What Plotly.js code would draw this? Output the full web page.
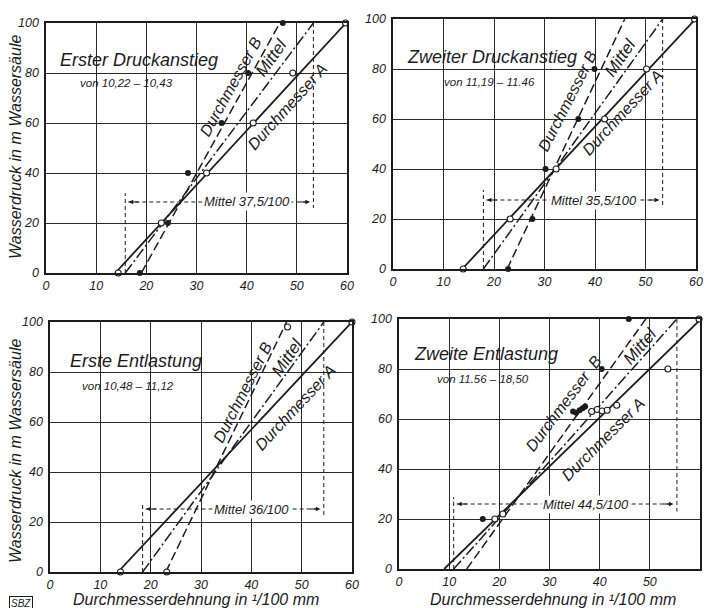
<!DOCTYPE html>
<html>
<head>
<meta charset="utf-8">
<script src="https://cdn.plot.ly/plotly-3.0.1.min.js"></script>
<style>html,body{margin:0;padding:0;background:#fff;}#chart{width:704px;height:608px;}</style>
</head>
<body>
<div id="chart"></div>
<script>
// ---------- data ----------
const xTicks = [0, 10, 20, 30, 40, 50, 60];
const yTicks = [0, 20, 40, 60, 80, 100];
const lineY = [0, 100];

// Panel 1: Erster Druckanstieg
const p1_title = "Erster Druckanstieg";
const p1_time = "von 10,22 – 10,43";
const p1_mittel = "Mittel 37,5/100";
const p1_lineA_x = [13.8, 59.8];
const p1_lineB_x = [19.0, 46.6];
const p1_lineM_x = [15.8, 53.3];
const p1_open_x = [14.4, 23.0, 32.0, 41.3, 49.2, 59.7];
const p1_open_y = [0, 20, 40, 60, 80, 100];
const p1_filled_x = [18.7, 24.3, 28.3, 35.0, 40.3, 47.2];
const p1_filled_y = [0, 20, 40, 60, 80, 100];
const p1_arrow_y = 28.4, p1_leftTop = 32, p1_rightBottom = 26, p1_textX = 40;

// Panel 2: Zweiter Druckanstieg
const p2_title = "Zweiter Druckanstieg";
const p2_time = "von 11,19 – 11.46";
const p2_mittel = "Mittel 35,5/100";
const p2_lineA_x = [13.7, 59.9];
const p2_lineB_x = [22.6, 45.9];
const p2_lineM_x = [17.9, 53.4];
const p2_open_x = [13.9, 23.2, 32.3, 41.9, 50.2, 59.7];
const p2_open_y = [0, 20, 40, 60, 80, 100];
const p2_filled_x = [22.8, 27.6, 30.2, 36.7, 39.9];
const p2_filled_y = [0, 20, 40, 60, 80];
const p2_arrow_y = 27.6, p2_leftTop = 31.6, p2_rightBottom = 24.8, p2_textX = 39.9;

// Panel 3: Erste Entlastung
const p3_title = "Erste Entlastung";
const p3_time = "von 10,48 – 11,12";
const p3_mittel = "Mittel 36/100";
const p3_lineA_x = [13.5, 60.0];
const p3_lineB_x = [23.0, 47.0];
const p3_lineM_x = [18.4, 54.4];
const p3_open_x = [14.0, 23.2, 47.2, 60.0];
const p3_open_y = [0, 0, 98, 100];
const p3_filled_x = [];
const p3_filled_y = [];
const p3_arrow_y = 25.2, p3_leftTop = 28, p3_rightBottom = 22.4, p3_textX = 40;

// Panel 4: Zweite Entlastung
const p4_title = "Zweite Entlastung";
const p4_time = "von 11.56 – 18,50";
const p4_mittel = "Mittel 44,5/100";
const p4_lineA_x = [9.0, 60.2];
const p4_lineB_x = [13.5, 49.2];
const p4_lineM_x = [10.9, 55.4];
const p4_open_x = [19.1, 20.7, 38.4, 39.5, 40.5, 41.5, 43.4, 53.6, 59.8];
const p4_open_y = [20, 22, 63, 63.8, 63.2, 63.5, 65.5, 80, 100];
const p4_filled_x = [16.7, 34.7, 35.3, 36.0, 36.6, 37.1, 40.4, 45.8];
const p4_filled_y = [20, 63, 62.5, 63.5, 64.3, 65, 80, 100];
const p4_arrow_y = 26, p4_leftTop = 28.8, p4_rightBottom = 23, p4_textX = 37.2;

// label positions / angles (layout)
const labelsPos = [
  {B:[36.9,74.4,-61], M:[45,86,-55], A:[48.2,66.4,-48], title:[2.4,85], time:[6.4,76]},
  {B:[34.6,67.4,-63], M:[45,84.8,-56], A:[45.5,62.5,-47], title:[2.4,84.8], time:[9.7,74.8]},
  {B:[38.2,72,-63], M:[47.1,86,-56], A:[48.7,66,-47], title:[3.6,84.4], time:[6,74.4]},
  {B:[32.8,66.3,-53], M:[48,89.2,-50], A:[40.6,52,-45], title:[2.6,86], time:[7.2,76]}
];

const panels = [
  {title:p1_title,time:p1_time,mittel:p1_mittel,A:p1_lineA_x,B:p1_lineB_x,M:p1_lineM_x,ox:p1_open_x,oy:p1_open_y,fx:p1_filled_x,fy:p1_filled_y,ay:p1_arrow_y,lt:p1_leftTop,rb:p1_rightBottom,tx:p1_textX,bLabel:"Durchmesser B"},
  {title:p2_title,time:p2_time,mittel:p2_mittel,A:p2_lineA_x,B:p2_lineB_x,M:p2_lineM_x,ox:p2_open_x,oy:p2_open_y,fx:p2_filled_x,fy:p2_filled_y,ay:p2_arrow_y,lt:p2_leftTop,rb:p2_rightBottom,tx:p2_textX,bLabel:"Durchmesser B"},
  {title:p3_title,time:p3_time,mittel:p3_mittel,A:p3_lineA_x,B:p3_lineB_x,M:p3_lineM_x,ox:p3_open_x,oy:p3_open_y,fx:p3_filled_x,fy:p3_filled_y,ay:p3_arrow_y,lt:p3_leftTop,rb:p3_rightBottom,tx:p3_textX,bLabel:"Durchmesser B"},
  {title:p4_title,time:p4_time,mittel:p4_mittel,A:p4_lineA_x,B:p4_lineB_x,M:p4_lineM_x,ox:p4_open_x,oy:p4_open_y,fx:p4_filled_x,fy:p4_filled_y,ay:p4_arrow_y,lt:p4_leftTop,rb:p4_rightBottom,tx:p4_textX,bLabel:"Durchmesser  B"}
];

// ---------- layout ----------
const domains = [
  {x:[46/704, 347/704], y:[1-273/608, 1-23/608]},
  {x:[393/704, 696/704], y:[1-269/608, 1-19/608]},
  {x:[50/704, 352/704], y:[1-572/608, 1-322/608]},
  {x:[399/704, 700/704], y:[1-569/608, 1-319/608]}
];

const FONT = "Liberation Sans, Arial, sans-serif";
const INK = "#1c1c1c";
const traces = [];
const annotations = [];
const layout = {
  width: 704, height: 608,
  margin: {l:0, r:0, t:0, b:0},
  paper_bgcolor: "#ffffff", plot_bgcolor: "#ffffff",
  showlegend: false,
  font: {family: FONT, color: INK, size: 13, style: "italic"},
  annotations: annotations
};

panels.forEach((p, i) => {
  const n = i + 1;
  const xa = n === 1 ? "x" : "x" + n;
  const ya = n === 1 ? "y" : "y" + n;
  const axKey = n === 1 ? "" : String(n);
  const common = {
    showline: true, mirror: true, linecolor: INK, linewidth: 1.6,
    showgrid: true, gridcolor: "#2a2a2a", gridwidth: 1,
    zeroline: false, ticks: "", fixedrange: true,
    tickfont: {family: FONT, size: 12.5, color: INK, style: "italic"}
  };
  layout["xaxis" + axKey] = Object.assign({}, common, {
    domain: domains[i].x, range: [0, 60], tickvals: xTicks, anchor: ya, ticklabelstandoff: 0
  });
  layout["yaxis" + axKey] = Object.assign({}, common, {
    domain: domains[i].y, range: [0, 100], tickvals: yTicks, anchor: xa, ticklabelstandoff: 3
  });

  const base = {xaxis: xa, yaxis: ya, hoverinfo: "skip", showlegend: false};
  // Mittel vertical dashed guides
  traces.push(Object.assign({}, base, {x:[p.M[0], p.M[0]], y:[0, p.lt], mode:"lines", line:{color:INK, width:1, dash:"4px,3px"}}));
  traces.push(Object.assign({}, base, {x:[p.M[1], p.M[1]], y:[100, p.rb], mode:"lines", line:{color:INK, width:1, dash:"4px,3px"}}));
  // horizontal dashed arrow
  traces.push(Object.assign({}, base, {x:[p.M[0] + 0.6, p.M[1] - 0.6], y:[p.ay, p.ay], mode:"lines", line:{color:INK, width:1, dash:"4px,3px"}}));
  // lines
  traces.push(Object.assign({}, base, {x:p.A, y:lineY, mode:"lines", line:{color:INK, width:1.8}}));
  traces.push(Object.assign({}, base, {x:p.B, y:lineY, mode:"lines", line:{color:INK, width:1.5, dash:"9px,4px"}}));
  traces.push(Object.assign({}, base, {x:p.M, y:lineY, mode:"lines", line:{color:INK, width:1.5, dash:"11px,3px,2px,3px"}}));
  // points
  traces.push(Object.assign({}, base, {x:p.fx, y:p.fy, mode:"markers", cliponaxis:false, marker:{symbol:"circle", size:6, color:INK}}));
  traces.push(Object.assign({}, base, {x:p.ox, y:p.oy, mode:"markers", cliponaxis:false, marker:{symbol:"circle", size:6, color:"#ffffff", line:{color:INK, width:1.1}}}));

  const lp = labelsPos[i];
  annotations.push({xref:xa, yref:ya, x:lp.title[0], y:lp.title[1], xanchor:"left", yanchor:"middle", text:p.title, showarrow:false, font:{family:FONT, size:18, color:INK, style:"italic"}});
  annotations.push({xref:xa, yref:ya, x:lp.time[0], y:lp.time[1], xanchor:"left", yanchor:"middle", text:p.time, showarrow:false, font:{family:FONT, size:11.5, color:INK, style:"italic"}});
  annotations.push({xref:xa, yref:ya, x:lp.B[0], y:lp.B[1], xanchor:"center", yanchor:"middle", text:p.bLabel, textangle:lp.B[2], showarrow:false, font:{family:FONT, size:16, color:INK, style:"italic"}});
  annotations.push({xref:xa, yref:ya, x:lp.M[0], y:lp.M[1], xanchor:"center", yanchor:"middle", text:"Mittel", textangle:lp.M[2], showarrow:false, font:{family:FONT, size:17, color:INK, style:"italic"}});
  annotations.push({xref:xa, yref:ya, x:lp.A[0], y:lp.A[1], xanchor:"center", yanchor:"middle", text:"Durchmesser A", textangle:lp.A[2], showarrow:false, font:{family:FONT, size:16, color:INK, style:"italic"}});
  // Mittel text
  annotations.push({xref:xa, yref:ya, x:p.tx, y:p.ay, xanchor:"center", yanchor:"middle", text:p.mittel, showarrow:false, bgcolor:"#ffffff", borderpad:1, font:{family:FONT, size:13, color:INK, style:"italic"}});
  // arrow heads
  annotations.push({xref:xa, yref:ya, axref:xa, ayref:ya, x:p.M[0] + 0.7, y:p.ay, ax:p.M[0] + 3, ay:p.ay, text:"", showarrow:true, arrowhead:2, arrowsize:0.9, arrowwidth:1, arrowcolor:INK});
  annotations.push({xref:xa, yref:ya, axref:xa, ayref:ya, x:p.M[1] - 0.7, y:p.ay, ax:p.M[1] - 3, ay:p.ay, text:"", showarrow:true, arrowhead:2, arrowsize:0.9, arrowwidth:1, arrowcolor:INK});
});

// axis titles
const yTitle = "Wasserdruck in m Wassersäule";
const xTitle = "Durchmesserdehnung in ¹/100 mm";
const titleFont = {family:FONT, size:16, color:INK, style:"italic"};
annotations.push({xref:"paper", yref:"paper", x:15/704, y:1-147/608, xanchor:"center", yanchor:"middle", text:yTitle, textangle:-90, showarrow:false, font:titleFont});
annotations.push({xref:"paper", yref:"paper", x:15/704, y:1-451/608, xanchor:"center", yanchor:"middle", text:yTitle, textangle:-90, showarrow:false, font:titleFont});
annotations.push({xref:"paper", yref:"paper", x:196/704, y:1-599.5/608, xanchor:"center", yanchor:"middle", text:xTitle, showarrow:false, font:titleFont});
annotations.push({xref:"paper", yref:"paper", x:553/704, y:1-599.5/608, xanchor:"center", yanchor:"middle", text:xTitle, showarrow:false, font:titleFont});
annotations.push({xref:"paper", yref:"paper", x:21/704, y:1-603/608, xanchor:"center", yanchor:"middle", text:"SBZ", showarrow:false, bordercolor:INK, borderwidth:1, borderpad:1, font:{family:FONT, size:10, color:INK}});

Plotly.newPlot("chart", traces, layout, {staticPlot:true, displayModeBar:false});
</script>
</body>
</html>
